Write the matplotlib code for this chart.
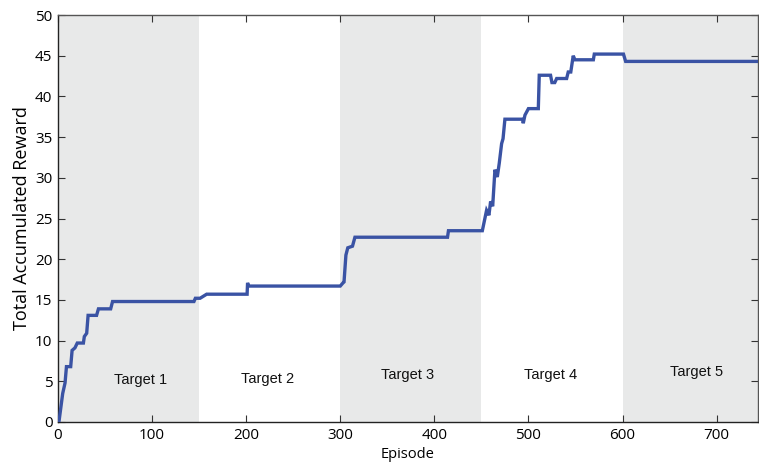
import matplotlib
matplotlib.use("Agg")
import matplotlib.pyplot as plt

# Accumulated reward trace (episode, reward) vertices
episode = [1, 5, 7.5, 9, 13.5, 15, 18, 20.5, 27, 28, 30.5, 32, 41, 43, 56, 58,
           144.5, 146, 151, 158, 201, 201.5, 202.5, 300, 303, 304, 306, 308,
           313, 315.6, 414, 415, 451, 455.5, 458, 459.8, 462, 464.4, 466.9,
           469, 471.5, 473, 475, 493.8, 494.5, 496.3, 500, 510.5, 511.5,
           523.5, 525, 528, 530, 540.6, 542.3, 545, 547.6, 549.4, 569, 570,
           601, 603.3, 744]
reward = [0, 3.5, 4.8, 6.8, 6.8, 8.8, 9.1, 9.7, 9.7, 10.5, 10.9, 13.1, 13.1,
          13.9, 13.9, 14.8, 14.8, 15.2, 15.2, 15.7, 15.7, 17.1, 16.7, 16.7,
          17.1, 17.2, 20.5, 21.4, 21.6, 22.7, 22.7, 23.5, 23.5, 26.0, 25.4,
          27.1, 26.5, 31.0, 30.1, 31.8, 34.2, 34.8, 37.2, 37.2, 36.7, 37.7,
          38.5, 38.5, 42.6, 42.6, 41.7, 41.7, 42.2, 42.2, 43.0, 43.0, 45.0,
          44.5, 44.5, 45.2, 45.2, 44.3, 44.3]

# Target phases
phase_starts = [0, 150, 300, 450, 600]
phase_ends = [150, 300, 450, 600, 750]
phase_shaded = [True, False, True, False, True]
phase_labels = ["Target 1", "Target 2", "Target 3", "Target 4", "Target 5"]
label_x = [88, 223, 372, 523, 679]
label_y = [5.2, 5.3, 5.8, 5.8, 6.1]

fig = plt.figure(figsize=(7.59, 4.65), dpi=100)
ax = fig.add_axes([0.0764, 0.0925, 0.9223, 0.8752])

for s, e, sh in zip(phase_starts, phase_ends, phase_shaded):
    if sh:
        ax.axvspan(s, e, color="#e8e9e9", lw=0, zorder=0)

ax.plot(episode, reward, color="#3a53a4", lw=2.4, solid_joinstyle="miter", zorder=3)

for lx, ly, lab in zip(label_x, label_y, phase_labels):
    ax.text(lx, ly, lab, ha="center", va="center", fontsize=10.5,
            family="Liberation Sans", color="#111111")

ax.set_xlim(0, 744)
ax.set_ylim(0, 50)
ax.set_xticks([0, 100, 200, 300, 400, 500, 600, 700])
ax.set_yticks(range(0, 51, 5))
ax.tick_params(direction="in", length=5, width=0.8, labelsize=11,
               right=True, top=True, pad=4, color="#333333")
for lab in ax.get_xticklabels() + ax.get_yticklabels():
    lab.set_family("Open Sans")
ax.set_xlabel("Episode", fontsize=10.5, family="Open Sans", labelpad=3)
ax.set_ylabel("Total Accumulated Reward", fontsize=13, family="Open Sans", labelpad=3)
for name, sp in ax.spines.items():
    sp.set_linewidth(1.0)
    sp.set_color("#222222" if name in ("left", "bottom") else "#555555")

fig.savefig("out.png", dpi=100)
